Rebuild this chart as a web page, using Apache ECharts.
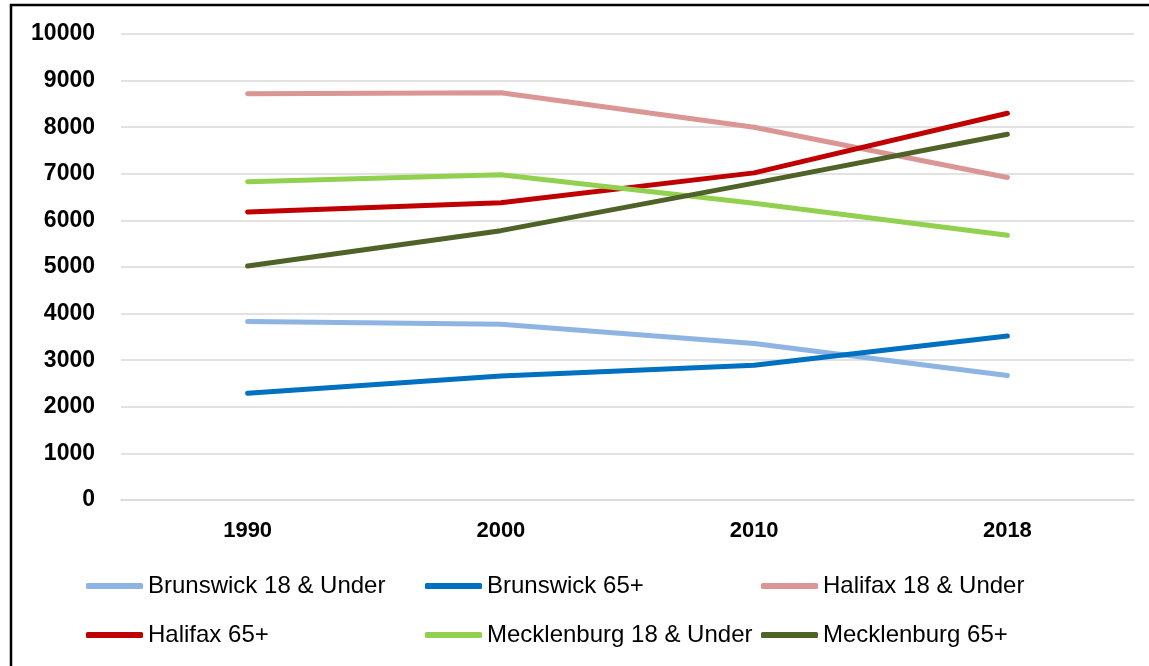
<!DOCTYPE html>
<html>
<head>
<meta charset="utf-8">
<script src="https://cdn.jsdelivr.net/npm/echarts@6/dist/echarts.min.js"></script>
<style>
  html, body { margin: 0; padding: 0; background: #fff; }
  #chart { width: 1149px; height: 666px; }
</style>
</head>
<body>
<div id="chart"></div>
<script>
// Population by age group, three counties
const years = ['1990', '2000', '2010', '2018'];
const brunswickUnder18 = [3830, 3770, 3360, 2670];
const brunswick65 = [2290, 2660, 2890, 3520];
const halifaxUnder18 = [8720, 8740, 8000, 6920];
const halifax65 = [6180, 6380, 7020, 8300];
const mecklenburgUnder18 = [6830, 6980, 6370, 5680];
const mecklenburg65 = [5020, 5780, 6800, 7850];
const yTicks = { min: 0, max: 10000, interval: 1000 };

const seriesDefs = [
  { name: 'Brunswick 18 & Under', data: brunswickUnder18, color: '#8EB4E3' },
  { name: 'Brunswick 65+', data: brunswick65, color: '#0070C0' },
  { name: 'Halifax 18 & Under', data: halifaxUnder18, color: '#DA9694' },
  { name: 'Halifax 65+', data: halifax65, color: '#C00000' },
  { name: 'Mecklenburg 18 & Under', data: mecklenburgUnder18, color: '#92D050' },
  { name: 'Mecklenburg 65+', data: mecklenburg65, color: '#4F6228' }
];

const labelFont = { fontFamily: 'Liberation Sans', fontWeight: 'bold', color: '#000' };
const legendText = { fontFamily: 'Liberation Sans', fontSize: 24, color: '#000' };

function legendColumn(left, names) {
  return {
    orient: 'vertical',
    left: left,
    top: 574,
    padding: 0,
    itemWidth: 57,
    itemHeight: 6,
    itemGap: 25,
    icon: 'roundRect',
    textStyle: legendText,
    data: names.map(n => ({ name: n, icon: 'roundRect' })),
    selectedMode: false
  };
}

const chart = echarts.init(document.getElementById('chart'), null, { renderer: 'canvas' });
chart.setOption({
  animation: false,
  backgroundColor: '#fff',
  graphic: [{
    type: 'rect',
    shape: { x: 11, y: 5, width: 1200, height: 720 },
    style: { fill: 'none', stroke: '#000', lineWidth: 2.5 },
    silent: true
  }],
  grid: { left: 121, right: 15, top: 34, bottom: 166 },
  legend: [
    legendColumn(86, ['Brunswick 18 & Under', 'Halifax 65+']),
    legendColumn(425, ['Brunswick 65+', 'Mecklenburg 18 & Under']),
    legendColumn(761, ['Halifax 18 & Under', 'Mecklenburg 65+'])
  ],
  xAxis: {
    type: 'category',
    data: years,
    boundaryGap: true,
    axisLine: { show: true, lineStyle: { color: '#D9D9D9', width: 1.5 } },
    axisTick: { show: false },
    axisLabel: Object.assign({ margin: 20, fontSize: 22 }, labelFont)
  },
  yAxis: {
    type: 'value',
    min: yTicks.min,
    max: yTicks.max,
    interval: yTicks.interval,
    axisLine: { show: false },
    axisTick: { show: false },
    splitLine: { lineStyle: { color: '#D9D9D9', width: 1.5 } },
    axisLabel: Object.assign({ margin: 26, fontSize: 23, formatter: v => String(v) }, labelFont)
  },
  series: seriesDefs.map(s => ({
    name: s.name,
    type: 'line',
    data: s.data,
    symbol: 'none',
    smooth: false,
    color: s.color,
    lineStyle: { color: s.color, width: 5, cap: 'round', join: 'round' }
  }))
});
</script>
</body>
</html>
